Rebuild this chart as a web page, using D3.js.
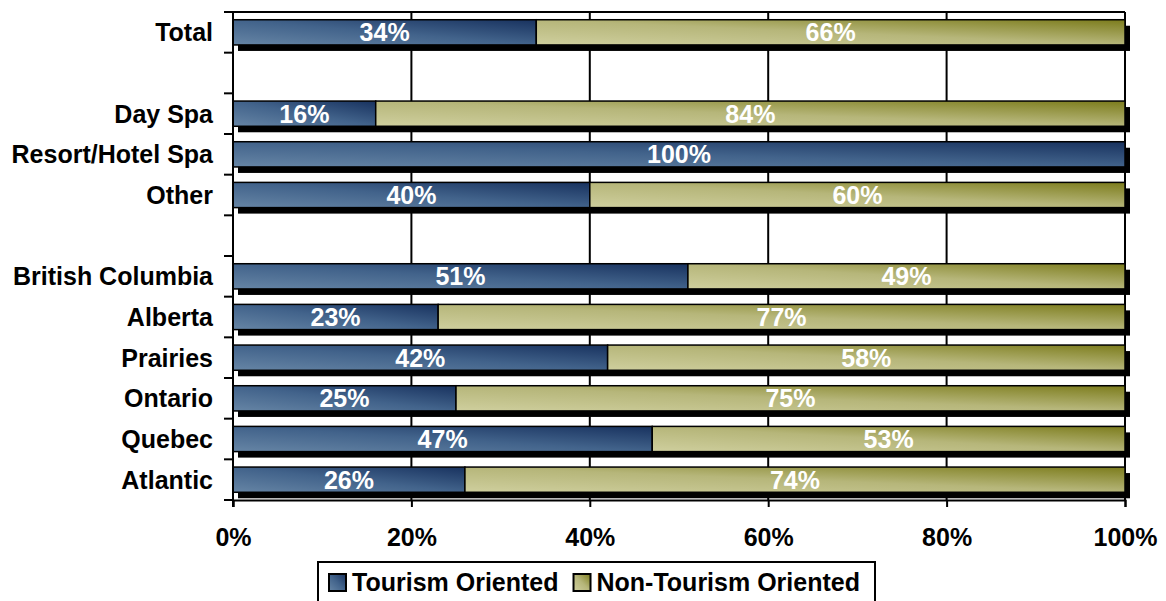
<!DOCTYPE html>
<html>
<head>
<meta charset="utf-8">
<script src="https://cdn.jsdelivr.net/npm/d3@7"></script>
<style>
  html, body { margin: 0; padding: 0; background: #fff; }
  svg { display: block; font-family: "Liberation Sans", Arial, sans-serif; }
</style>
</head>
<body>
<svg id="chart" width="1166" height="601"></svg>
<script>
// Rows from top to bottom; empty strings are spacer rows between groups
const categories = ["Total", "", "Day Spa", "Resort/Hotel Spa", "Other", "",
  "British Columbia", "Alberta", "Prairies", "Ontario", "Quebec", "Atlantic"];
const tourism    = [34, null, 16, 100, 40, null, 51, 23, 42, 25, 47, 26];
const nonTourism = [66, null, 84, 0, 60, null, 49, 77, 58, 75, 53, 74];
const seriesNames = ["Tourism Oriented", "Non-Tourism Oriented"];
const xTicks = [0, 20, 40, 60, 80, 100];

const FS = 25;
const svg = d3.select("#chart");
const margin = { left: 233, right: 41, top: 12, bottom: 101 };
const W = 1166, H = 601;
const plotW = W - margin.left - margin.right;
const plotH = H - margin.top - margin.bottom;

const x = d3.scaleLinear().domain([0, 100]).range([margin.left, margin.left + plotW]);
const y = d3.scaleBand().domain(d3.range(categories.length))
  .range([margin.top, margin.top + plotH]).paddingInner(0.38).paddingOuter(0.19);
const slot = d3.scaleBand().domain(d3.range(categories.length))
  .range([margin.top, margin.top + plotH]);

// Gradients
const defs = svg.append("defs");
function grad(id, light, mid, dark) {
  const g = defs.append("linearGradient").attr("id", id)
    .attr("x1", 0).attr("y1", 1).attr("x2", 1).attr("y2", 0);
  g.append("stop").attr("offset", "0%").attr("stop-color", light);
  g.append("stop").attr("offset", "50%").attr("stop-color", mid);
  g.append("stop").attr("offset", "100%").attr("stop-color", dark);
}
grad("gBlue", "#6685a5", "#42638b", "#18325f");
grad("gOlive", "#cfcf9e", "#b6b67a", "#7c7c1c");
const fills = ["url(#gBlue)", "url(#gOlive)"];

// Grid lines and frame
const grid = svg.append("g");
grid.selectAll("line.v").data(xTicks.slice(1)).join("line")
  .attr("x1", d => x(d)).attr("x2", d => x(d))
  .attr("y1", margin.top).attr("y2", margin.top + plotH)
  .attr("stroke", "#000").attr("stroke-width", 2);
grid.append("line")
  .attr("x1", x(0)).attr("x2", x(100))
  .attr("y1", margin.top).attr("y2", margin.top)
  .attr("stroke", "#000").attr("stroke-width", 2);

// Bars
const rows = categories.map((c, i) => ({ i, c, t: tourism[i], n: nonTourism[i] }))
  .filter(d => d.t !== null);
const bh = y.bandwidth();
const shadow = svg.append("g");
shadow.selectAll("rect").data(rows).join("rect")
  .attr("x", x(0) + 5).attr("y", d => y(d.i) + 6)
  .attr("width", x(100) - x(0)).attr("height", bh)
  .attr("fill", "#000");

const bars = svg.append("g");
rows.forEach(d => {
  const segs = [[0, d.t], [d.t, d.t + d.n]];
  segs.forEach((s, k) => {
    if (s[1] - s[0] <= 0) return;
    bars.append("rect")
      .attr("x", x(s[0])).attr("y", y(d.i))
      .attr("width", x(s[1]) - x(s[0])).attr("height", bh)
      .attr("fill", fills[k]).attr("stroke", "#000").attr("stroke-width", 1.5);
    bars.append("text")
      .attr("x", (x(s[0]) + x(s[1])) / 2).attr("y", y(d.i) + bh / 2)
      .attr("dy", "0.36em").attr("text-anchor", "middle")
      .attr("fill", "#fff").attr("font-weight", "bold").attr("font-size", FS)
      .text((s[1] - s[0]) + "%");
  });
});

// Y axis
const yAxis = svg.append("g");
yAxis.append("line").attr("x1", x(0)).attr("x2", x(0))
  .attr("y1", margin.top).attr("y2", margin.top + plotH + 7)
  .attr("stroke", "#000").attr("stroke-width", 2);
yAxis.selectAll("line.tk").data(d3.range(categories.length + 1)).join("line")
  .attr("class", "tk")
  .attr("x1", x(0) - 9).attr("x2", x(0))
  .attr("y1", i => margin.top + i * slot.step()).attr("y2", i => margin.top + i * slot.step())
  .attr("stroke", "#000").attr("stroke-width", 2);
yAxis.selectAll("text").data(rows).join("text")
  .attr("x", 213).attr("y", d => slot(d.i) + slot.bandwidth() / 2)
  .attr("dy", "0.36em").attr("text-anchor", "end")
  .attr("font-weight", "bold").attr("font-size", FS).attr("fill", "#000")
  .text(d => d.c);

// X axis
const xAxis = svg.append("g").attr("transform", `translate(0,${margin.top + plotH})`)
  .call(d3.axisBottom(x).tickValues(xTicks).tickSize(7).tickFormat(d => d + "%"));
xAxis.select(".domain").attr("stroke", "#000").attr("stroke-width", 2);
xAxis.selectAll(".tick line").attr("stroke", "#000").attr("stroke-width", 2);
xAxis.selectAll(".tick text").attr("font-family", "Liberation Sans, Arial, sans-serif")
  .attr("font-size", FS).attr("font-weight", "bold").attr("fill", "#000")
  .attr("dy", 0).attr("y", 46);

// Legend
const lg = svg.append("g");
lg.append("rect").attr("x", 318).attr("y", 562).attr("width", 557).attr("height", 50)
  .attr("fill", "#fff").attr("stroke", "#000").attr("stroke-width", 2);
let lx = 329;
seriesNames.forEach((name, k) => {
  lg.append("rect").attr("x", lx).attr("y", 574).attr("width", 17).attr("height", 17)
    .attr("fill", fills[k]).attr("stroke", "#000").attr("stroke-width", 2);
  const t = lg.append("text").attr("x", lx + 23).attr("y", 591)
    .attr("font-weight", "bold").attr("font-size", FS).attr("fill", "#000")
    .text(name);
  lx = lx + 23 + t.node().getComputedTextLength() + 15;
});
</script>
</body>
</html>
